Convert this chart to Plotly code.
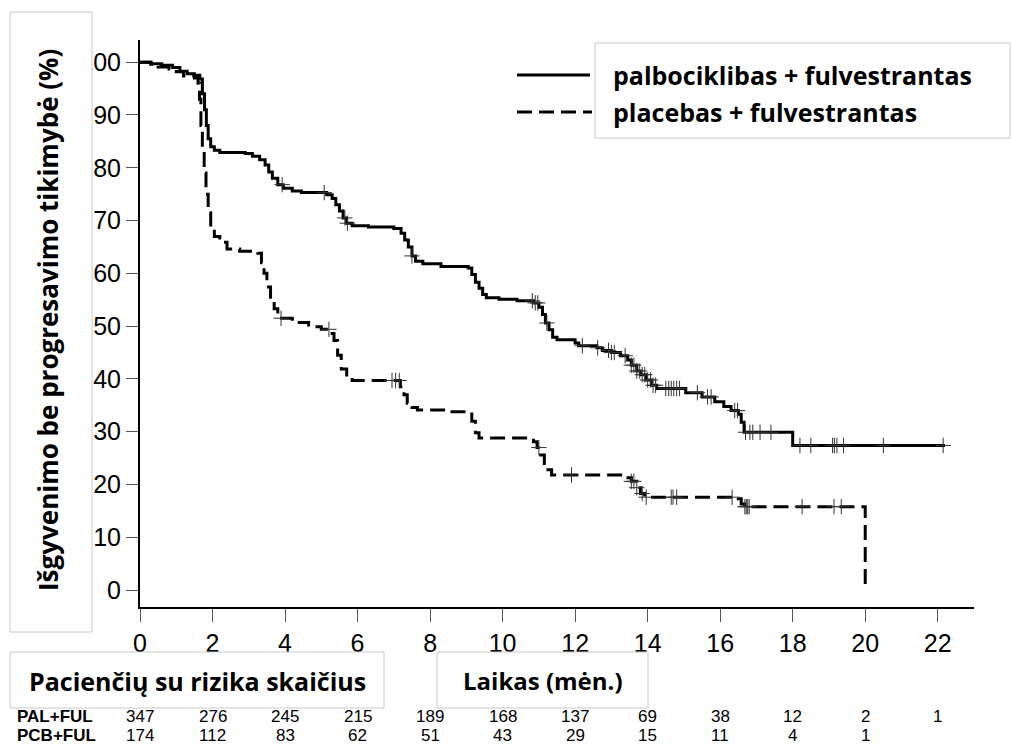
import numpy as np
import plotly.graph_objects as go

# ---------------- data ----------------
pal_t = [0, 0.3, 0.6, 0.9, 1.1, 1.3, 1.5, 1.65, 1.72, 1.78, 1.83, 1.88, 1.95, 2.05, 2.2, 2.9,
         3.1, 3.3, 3.45, 3.55, 3.65, 3.8, 3.95, 4.2, 4.45, 5.15, 5.3, 5.4, 5.5, 5.6, 5.7, 5.85,
         6.3, 7.0, 7.2, 7.3, 7.4, 7.5, 7.6, 7.8, 8.3, 9.05, 9.15, 9.25, 9.35, 9.45, 9.55, 9.9,
         10.4, 10.85, 11.0, 11.1, 11.18, 11.28, 11.38, 11.5, 12.0, 12.1, 12.6, 12.75, 13.0,
         13.25, 13.45, 13.55, 13.7, 13.8, 13.95, 14.1, 14.25, 15.05, 15.5, 15.85, 16.1, 16.3,
         16.5, 16.58, 16.66, 18.0, 22.2]
pal_s = [100, 99.7, 99.4, 99.0, 98.3, 97.8, 97.5, 96.8, 94, 91, 88, 85.5, 84, 83.3, 82.9, 82.7,
         82.2, 81.5, 80.5, 79.2, 78, 76.8, 76.1, 75.6, 75.3, 74.9, 74.2, 73, 71.8, 70.5, 69.5, 69.0,
         68.8, 68.5, 67.6, 66.3, 65, 63.3, 62.3, 61.8, 61.3, 61.0, 59.8, 58.3, 57.2, 56.0, 55.4, 55.1,
         54.8, 54.4, 53.6, 52.2, 50.6, 49.3, 47.9, 47.4, 46.8, 46.3, 45.9, 45.4, 45.0,
         44.4, 43.6, 42.6, 41.5, 40.8, 39.8, 38.8, 38.2, 37.4, 36.6, 35.7, 34.8, 34.0,
         33.3, 31.8, 29.9, 27.4, 27.4]

pcb_t = [0, 0.3, 0.5, 0.8, 1.0, 1.2, 1.5, 1.6, 1.64, 1.68, 1.72, 1.77, 1.82, 1.88, 1.95, 2.05,
         2.2, 2.4, 2.75, 3.25, 3.35, 3.42, 3.5, 3.6, 3.7, 3.8, 4.2, 4.65, 5.0, 5.22, 5.35, 5.45,
         5.55, 5.7, 5.85, 7.18, 7.28, 7.37, 7.5, 7.65, 8.5, 9.15, 9.25, 9.35, 10.85, 10.95, 11.05,
         11.15, 11.25, 11.35, 13.3, 13.55, 13.7, 13.8, 13.92, 16.5, 16.58, 16.68, 20.0]
pcb_s = [100, 99.6, 99.1, 98.7, 98.2, 97.4, 97.0, 96, 93, 88, 83, 79, 75, 71.5, 68.5, 67.0,
         65.9, 64.6, 64.2, 63.8, 62, 60, 57.4, 55, 53.3, 51.5, 50.7, 49.9, 49.4, 48.6, 47.3, 44.5,
         41.9, 40.4, 39.7, 38.5, 37, 35.4, 34.6, 34.1, 33.8, 32, 29.8, 28.8, 28.1, 27, 25.6,
         24, 22.8, 21.8, 21.3, 20.6, 19.4, 18.3, 17.6, 17.3, 16.3, 15.8, 0]

pal_cens = [3.92, 5.08, 5.65, 5.72, 7.5, 10.82, 10.9, 10.97, 11.22, 12.2, 12.62, 12.92, 13.0,
            13.08, 13.38, 13.55, 13.62, 13.7, 13.78, 13.85, 13.92, 14.0, 14.08, 14.15, 14.22,
            14.5, 14.58, 14.65, 14.72, 14.8, 14.88, 15.37, 15.65, 15.75, 16.4, 16.48, 16.7,
            16.82, 16.9, 17.1, 17.4, 18.2, 18.5, 19.1, 19.15, 19.22, 19.4, 20.5, 22.15]
pcb_cens = [3.89, 5.21, 6.95, 7.05, 7.15, 11.0, 11.9, 13.55, 13.62, 13.7, 13.85, 13.96, 14.65,
            14.7, 14.8, 16.33, 16.68, 16.72, 16.76, 16.8, 18.26, 19.14, 19.34]

x_ticks = [0, 2, 4, 6, 8, 10, 12, 14, 16, 18, 20, 22]
y_ticks = [0, 10, 20, 30, 40, 50, 60, 70, 80, 90, 100]
y_ticklabels = ["0", "10", "20", "30", "40", "50", "60", "70", "80", "90", "100"]

risk_times = [0, 2, 4, 6, 8, 10, 12, 14, 16, 18, 20, 22]
pal_risk = [347, 276, 245, 215, 189, 168, 137, 69, 38, 12, 2, 1]
pcb_risk = [174, 112, 83, 62, 51, 43, 29, 15, 11, 4, 1]

legend_labels = ["palbociklibas + fulvestrantas", "placebas + fulvestrantas"]
row_labels = ["PAL+FUL", "PCB+FUL"]
y_title = "Išgyvenimo be progresavimo tikimybė (%)"
risk_title = "Pacienčių su rizika skaičius"
x_title = "Laikas (mėn.)"


def step_at(ts, ss, t):
    i = int(np.searchsorted(np.asarray(ts), t, side="right")) - 1
    return ss[max(i, 0)]


# ---------------- layout helpers (pixel -> paper) ----------------
L, R, T, B = 140, 974, 40, 607


def px(x):
    return (x - L) / (R - L)


def py(y):
    return (B - y) / (B - T)


BOLD = "Open Sans"
ARIAL = "Liberation Sans, Arial"

fig = go.Figure()

fig.add_trace(go.Scatter(x=pal_t, y=pal_s, mode="lines", line=dict(color="black", width=3, shape="hv"),
                         showlegend=False, hoverinfo="skip"))
fig.add_trace(go.Scatter(x=pcb_t, y=pcb_s, mode="lines",
                         line=dict(color="black", width=3, shape="hv", dash="15px,7px"),
                         showlegend=False, hoverinfo="skip"))
fig.add_trace(go.Scatter(x=pal_cens, y=[step_at(pal_t, pal_s, t) for t in pal_cens], mode="markers",
                         marker=dict(symbol="cross-thin", size=11, line=dict(width=1, color="#333")),
                         showlegend=False, hoverinfo="skip"))
fig.add_trace(go.Scatter(x=pcb_cens, y=[step_at(pcb_t, pcb_s, t) for t in pcb_cens], mode="markers",
                         marker=dict(symbol="cross-thin", size=11, line=dict(width=1, color="#333")),
                         showlegend=False, hoverinfo="skip"))

shapes = []
anns = []

# y title box (covers leading "1" of 100 like the reference)
shapes.append(dict(type="rect", xref="paper", yref="paper", x0=px(10), x1=px(92), y0=py(632), y1=py(12),
                   fillcolor="white", line=dict(color="#c8c8c8", width=1), layer="above"))
anns.append(dict(text="<b>%s</b>" % y_title, xref="paper", yref="paper", x=px(48), y=py(320),
                 showarrow=False, textangle=-90, font=dict(family=BOLD, size=26, color="black"),
                 xanchor="center", yanchor="middle"))

# legend
shapes.append(dict(type="rect", xref="paper", yref="paper", x0=px(595), x1=px(1010), y0=py(138), y1=py(43),
                   fillcolor="white", line=dict(color="#c8c8c8", width=1), layer="above"))
shapes.append(dict(type="line", xref="paper", yref="paper", x0=px(517), x1=px(590), y0=py(75), y1=py(75),
                   line=dict(color="black", width=3)))
shapes.append(dict(type="line", xref="paper", yref="paper", x0=px(517), x1=px(592), y0=py(112), y1=py(112),
                   line=dict(color="black", width=3, dash="15px,7px")))
for lab, yy in zip(legend_labels, [75, 112]):
    anns.append(dict(text="<b>%s</b>" % lab, xref="paper", yref="paper", x=px(611), y=py(yy),
                     showarrow=False, xanchor="left", yanchor="middle",
                     font=dict(family=BOLD, size=25, color="black")))

# bottom boxes
for txt, x0, x1, fs in [(risk_title, 10, 384, 25), (x_title, 437, 648, 24)]:
    shapes.append(dict(type="rect", xref="paper", yref="paper", x0=px(x0), x1=px(x1), y0=py(708), y1=py(652),
                       fillcolor="white", line=dict(color="#c8c8c8", width=1), layer="above"))
    anns.append(dict(text="<b>%s</b>" % txt, xref="paper", yref="paper", x=px((x0 + x1) / 2), y=py(681),
                     showarrow=False, xanchor="center", yanchor="middle",
                     font=dict(family=BOLD, size=fs, color="black")))

# at-risk table
for lab, yy, vals in zip(row_labels, [716, 735], [pal_risk, pcb_risk]):
    anns.append(dict(text="<b>%s</b>" % lab, xref="paper", yref="paper", x=px(16), y=py(yy),
                     showarrow=False, xanchor="left", yanchor="middle", borderpad=0,
                     font=dict(family=ARIAL, size=17, color="black")))
    for t, v in zip(risk_times, vals):
        anns.append(dict(text=str(v), xref="x", yref="paper", x=t, y=py(yy), showarrow=False, borderpad=0,
                         xanchor="center", yanchor="middle", font=dict(family=ARIAL, size=17, color="black")))

fig.update_layout(
    width=1011, height=745,
    margin=dict(l=L, r=1011 - R, t=T, b=745 - B, pad=0),
    paper_bgcolor="white", plot_bgcolor="white",
    shapes=shapes, annotations=anns,
    xaxis=dict(range=[0, 23], tickvals=x_ticks, showline=True, linecolor="black", linewidth=2,
               ticks="outside", ticklen=13, tickwidth=1, tickcolor="#555", showgrid=False, zeroline=False,
               tickfont=dict(family="Liberation Sans Narrow, Liberation Sans, Arial", size=25, color="black")),
    yaxis=dict(range=[-3.2, 104.2], tickvals=y_ticks, ticktext=y_ticklabels, showline=True,
               linecolor="black", linewidth=2, ticks="outside", ticklen=12, tickwidth=1, tickcolor="#555",
               showgrid=False, zeroline=False,
               tickfont=dict(family=ARIAL, size=25, color="black")),
)

fig.write_html("out.html")
